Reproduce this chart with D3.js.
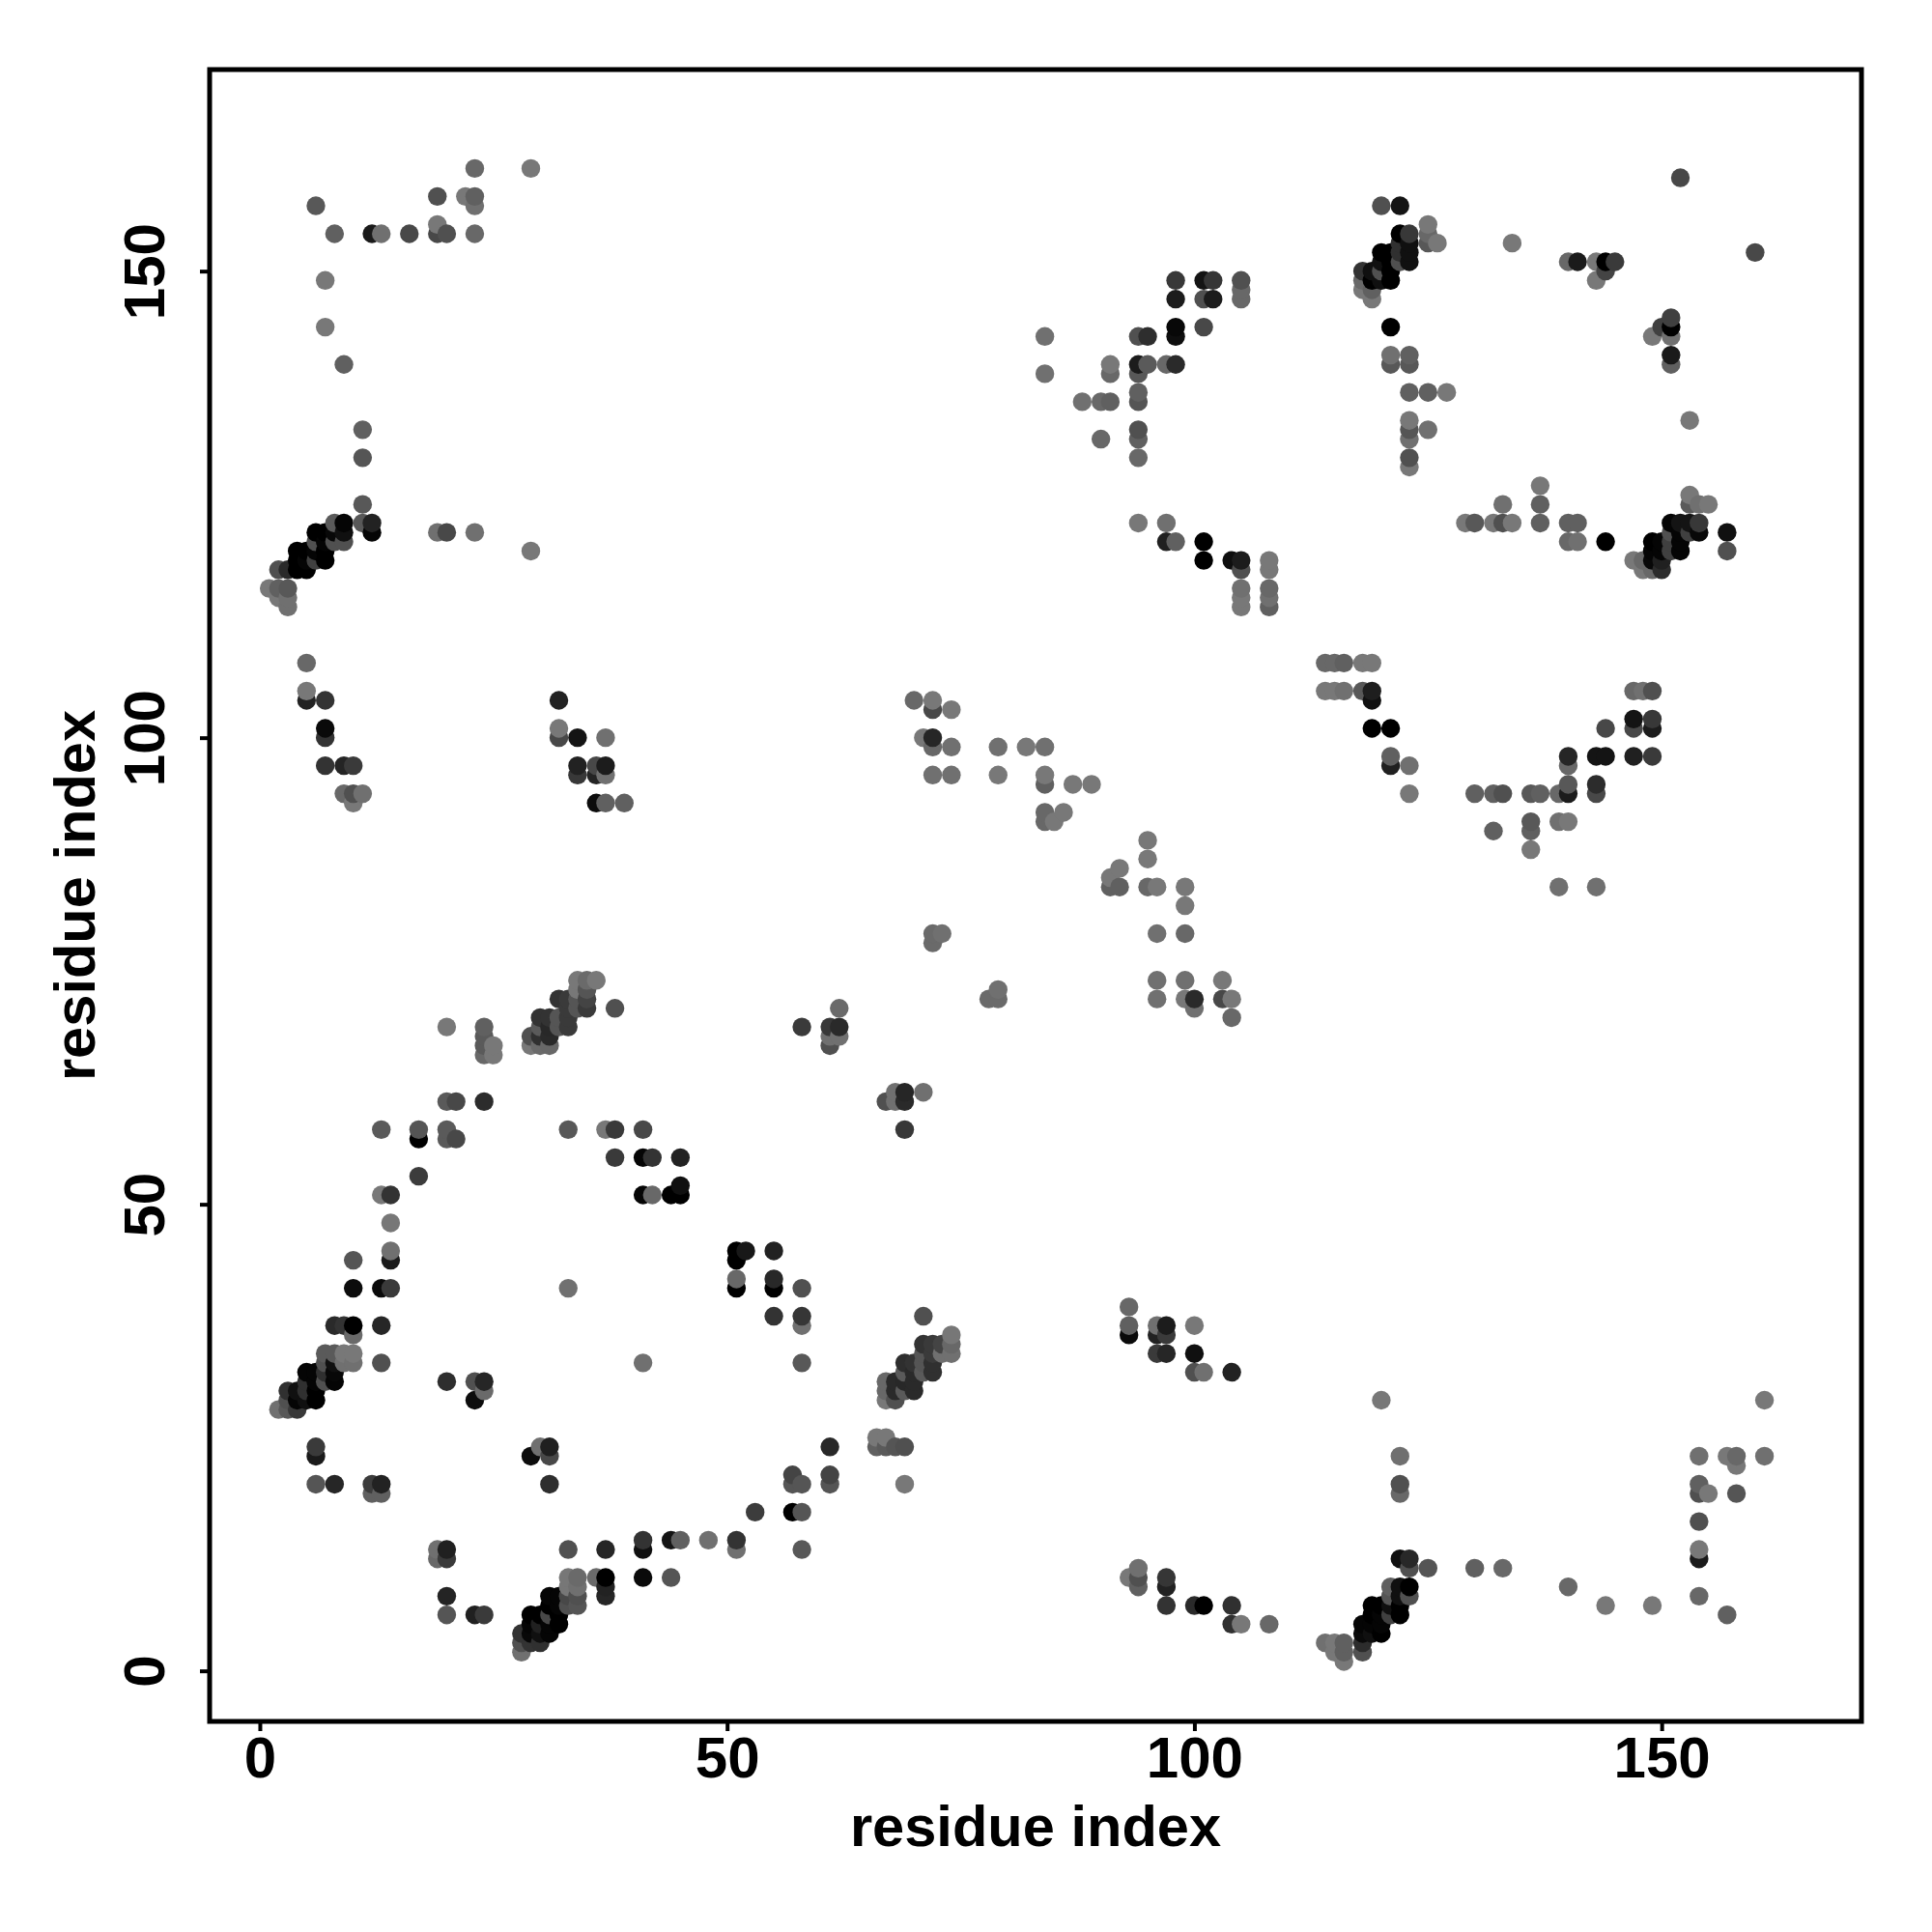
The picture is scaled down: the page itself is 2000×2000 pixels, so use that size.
<!DOCTYPE html>
<html><head><meta charset="utf-8"><style>html,body{margin:0;background:#fff}svg{display:block}</style>
<script src="https://cdn.jsdelivr.net/npm/d3@7"></script></head><body><svg id="c" width="2000" height="2000"></svg>
<script>
// each contact: [residue x, residue y, grey level]
const clusterA=[[2,28,0x70],[3,28,0x58],[4,28,0x38],[3,29,0x50],[4,29,0x05],[5,29,0x10],[6,29,0x00],[3,30,0x30],[4,30,0x10],[5,30,0x30],[6,30,0x00],[5,31,0x30],[6,31,0x05],[7,31,0x50],[8,31,0x05],[5,32,0x05],[6,32,0x05],[7,32,0x30],[8,32,0x08],[7,33,0x50],[8,33,0x10],[9,33,0x70],[10,33,0x70],[7,34,0x5a],[8,34,0x5a],[9,34,0x78],[10,34,0x78]];
const lowerLeft=[[14,48,0x77],[14,45,0x70],[14,44,0x1a],[10,44,0x55],[10,41,0x0c],[13,41,0x0a],[14,41,0x3a],[33,41,0x70],[8,37,0x2a],[9,37,0x33],[10,37,0x00],[13,37,0x26],[10,36,0x6a],[13,33,0x50],[41,33,0x70],[20,31,0x2e],[23,31,0x50],[24,31,0x26],[24,30,0x6a],[23,29,0x0c],[6,24,0x3a],[6,23,0x1a],[6,20,0x55],[8,20,0x26],[12,20,0x3c],[13,20,0x22],[12,19,0x60],[13,19,0x60],[29,23,0x0c],[30,24,0x70],[31,24,0x20],[31,23,0x48],[31,20,0x2e],[41,14,0x33],[41,13,0x10],[44,14,0x14],[45,14,0x60],[48,14,0x70],[19,13,0x70],[20,13,0x20],[33,13,0x50],[37,13,0x26],[19,12,0x68],[20,12,0x3a],[33,10,0x77],[34,10,0x6a],[36,10,0x6a],[37,10,0x00],[41,10,0x0a],[44,10,0x55],[33,9,0x77],[34,9,0x70],[37,9,0x22],[20,8,0x24],[37,8,0x26],[20,6,0x55],[23,6,0x20],[24,6,0x3a]];
const clusterB=[[28,2,0x70],[28,3,0x50],[29,3,0x33],[30,3,0x30],[28,4,0x33],[29,4,0x08],[30,4,0x10],[31,4,0x05],[29,5,0x05],[30,5,0x20],[31,5,0x05],[32,5,0x00],[29,6,0x00],[30,6,0x00],[31,6,0x48],[32,6,0x00],[31,7,0x00],[32,7,0x05],[33,7,0x50],[34,7,0x55],[31,8,0x05],[32,8,0x05],[33,8,0x48],[34,8,0x50]];
const lowerMiddle=[[51,45,0x00],[52,45,0x18],[55,45,0x22],[51,44,0x00],[51,42,0x68],[55,42,0x28],[51,41,0x00],[55,41,0x00],[58,41,0x50],[55,38,0x33],[58,38,0x36],[71,38,0x50],[58,37,0x70],[58,33,0x58],[66,25,0x78],[67,25,0x78],[66,24,0x60],[67,24,0x5a],[68,24,0x55],[69,24,0x50],[61,24,0x28],[57,21,0x44],[61,21,0x44],[57,20,0x55],[58,20,0x55],[61,20,0x55],[69,20,0x78],[53,17,0x3c],[57,17,0x00],[58,17,0x55],[51,14,0x33],[51,13,0x70],[58,13,0x58]];
const clusterC=[[74,36,0x77],[71,35,0x33],[72,35,0x3a],[73,35,0x44],[74,35,0x68],[71,34,0x55],[72,34,0x3a],[73,34,0x70],[74,34,0x70],[69,33,0x2e],[70,33,0x33],[71,33,0x55],[72,33,0x30],[69,32,0x5a],[70,32,0x2a],[71,32,0x5a],[72,32,0x30],[67,31,0x68],[68,31,0x2a],[69,31,0x28],[70,31,0x2a],[67,30,0x68],[68,30,0x2a],[69,30,0x5a],[70,30,0x2a],[67,29,0x78],[68,29,0x50]];
const lowerRight=[[93,39,0x68],[93,37,0x60],[93,36,0x0a],[96,37,0x70],[97,37,0x1c],[96,36,0x22],[97,36,0x3a],[96,34,0x3a],[97,34,0x26],[100,37,0x78],[100,34,0x10],[100,32,0x50],[101,32,0x70],[104,32,0x22],[93,10,0x78],[94,11,0x70],[94,10,0x50],[94,9,0x60],[97,10,0x36],[97,9,0x22],[97,7,0x33],[100,7,0x2a],[101,7,0x00],[120,29,0x78],[161,29,0x78],[122,23,0x70],[154,23,0x70],[157,23,0x78],[158,23,0x68],[161,23,0x70],[158,22,0x78],[122,20,0x50],[154,20,0x60],[122,19,0x68],[154,19,0x50],[155,19,0x78],[158,19,0x55],[154,16,0x50],[154,13,0x78],[154,12,0x1a],[122,12,0x10],[123,12,0x28],[123,11,0x50],[125,11,0x55],[130,11,0x60],[133,11,0x68],[140,9,0x68],[144,7,0x78],[149,7,0x78],[154,8,0x68],[157,6,0x60],[104,7,0x30],[104,5,0x30],[105,5,0x78],[108,5,0x68]];
const clusterD=[[114,3,0x70],[115,3,0x78],[116,3,0x60],[115,2,0x78],[116,2,0x60],[116,1,0x78],[118,2,0x50],[118,3,0x2c],[118,4,0x0a],[119,4,0x10],[120,4,0x00],[118,5,0x05],[119,5,0x05],[120,5,0x05],[119,6,0x00],[120,6,0x05],[121,6,0x40],[122,6,0x00],[119,7,0x00],[120,7,0x00],[121,7,0x10],[122,7,0x00],[121,8,0x55],[122,8,0x10],[123,8,0x50],[121,9,0x60],[122,9,0x10],[123,9,0x00]];
const midLeft=[[34,74,0x78],[35,74,0x6a],[36,74,0x78],[34,73,0x78],[35,73,0x55],[32,72,0x33],[33,72,0x3a],[34,72,0x55],[35,72,0x44],[38,71,0x50],[33,71,0x3a],[34,71,0x55],[35,71,0x3a],[30,70,0x33],[31,70,0x33],[32,70,0x55],[33,70,0x3a],[20,69,0x78],[24,69,0x60],[30,69,0x5a],[31,69,0x28],[32,69,0x55],[33,69,0x3a],[24,68,0x5a],[29,68,0x50],[30,68,0x30],[31,68,0x2a],[24,67,0x5a],[25,67,0x78],[29,67,0x78],[30,67,0x6a],[31,67,0x68],[24,66,0x68],[25,66,0x78],[20,61,0x5a],[21,61,0x48],[24,61,0x2c],[13,58,0x5a],[17,58,0x55],[20,58,0x5a],[33,58,0x58],[37,58,0x78],[38,58,0x3a],[41,58,0x48],[17,57,0x00],[20,57,0x5a],[21,57,0x48],[38,55,0x3a],[41,55,0x05],[42,55,0x33],[45,55,0x22],[17,53,0x3c],[45,52,0x10],[13,51,0x78],[14,51,0x33],[41,51,0x05],[42,51,0x68],[44,51,0x00],[45,51,0x00]];
const midCentre=[[62,71,0x6a],[58,69,0x3a],[61,69,0x38],[62,69,0x2a],[61,68,0x70],[62,68,0x70],[61,67,0x50],[68,62,0x70],[69,62,0x26],[71,62,0x70],[67,61,0x50],[68,61,0x70],[69,61,0x2a],[69,58,0x38],[72,96,0x70],[74,96,0x70],[79,96,0x78],[84,96,0x78],[84,95,0x60],[87,95,0x78],[89,95,0x78],[84,92,0x68],[86,92,0x78],[84,91,0x68],[85,91,0x78],[95,89,0x78],[95,87,0x78],[92,86,0x78],[91,85,0x78],[91,84,0x60],[92,84,0x60],[95,84,0x68],[96,84,0x78],[99,84,0x78],[99,82,0x78],[96,79,0x70],[99,79,0x68],[72,79,0x6a],[73,79,0x70],[72,78,0x6a],[96,74,0x70],[99,74,0x70],[103,74,0x78],[96,72,0x70],[99,72,0x78],[100,72,0x2a],[103,72,0x48],[104,72,0x78],[100,71,0x70],[104,70,0x68],[79,73,0x70],[79,72,0x6a],[78,72,0x6a],[70,104,0x68],[72,104,0x78],[72,103,0x48],[74,103,0x78],[71,100,0x78],[72,100,0x26],[72,99,0x68],[74,99,0x70],[79,99,0x70],[82,99,0x78],[84,99,0x70]];
const midUpperLeft=[[5,108,0x68],[5,105,0x78],[5,104,0x22],[7,104,0x33],[7,101,0x0a],[7,100,0x33],[7,97,0x33],[9,97,0x24],[10,97,0x3a],[9,94,0x68],[10,94,0x50],[11,94,0x70],[10,93,0x78],[32,104,0x22],[32,101,0x78],[32,100,0x48],[34,100,0x14],[37,100,0x70],[34,97,0x22],[36,97,0x48],[37,97,0x1c],[34,96,0x38],[36,96,0x24],[37,96,0x70],[36,93,0x0c],[37,93,0x60],[39,93,0x60]];
const midRight=[[114,108,0x68],[115,108,0x68],[116,108,0x60],[118,108,0x78],[119,108,0x78],[114,105,0x78],[115,105,0x78],[116,105,0x70],[118,105,0x58],[119,105,0x1e],[119,104,0x10],[119,101,0x00],[121,101,0x00],[121,98,0x60],[121,97,0x20],[123,97,0x70],[123,94,0x78],[130,94,0x60],[132,94,0x60],[133,94,0x50],[136,94,0x58],[137,94,0x60],[139,94,0x68],[140,94,0x1c],[143,94,0x48],[140,95,0x58],[143,95,0x2c],[140,97,0x68],[140,98,0x26],[143,98,0x14],[144,98,0x14],[147,98,0x20],[149,98,0x3a],[144,101,0x48],[147,101,0x48],[149,101,0x1c],[147,102,0x14],[149,102,0x38],[147,105,0x68],[148,105,0x70],[149,105,0x50],[136,91,0x58],[139,91,0x70],[140,91,0x78],[132,90,0x60],[136,90,0x60],[136,88,0x78],[139,84,0x70],[143,84,0x70]];
const clusterE=[[1,116,0x78],[2,116,0x60],[3,116,0x58],[2,115,0x78],[3,115,0x70],[3,114,0x70],[2,118,0x50],[3,118,0x2a],[4,118,0x00],[5,118,0x00],[4,119,0x00],[5,119,0x05],[6,119,0x40],[7,119,0x00],[4,120,0x00],[5,120,0x00],[6,120,0x05],[7,120,0x00],[6,121,0x50],[7,121,0x05],[8,121,0x50],[9,121,0x50],[6,122,0x00],[7,122,0x00],[8,122,0x08],[9,122,0x10],[8,123,0x5a],[9,123,0x05]];
const upperLeft=[[11,125,0x58],[11,123,0x58],[12,123,0x22],[12,122,0x05],[19,122,0x70],[20,122,0x48],[23,122,0x70],[29,120,0x78],[23,161,0x68],[29,161,0x78],[19,158,0x50],[22,158,0x78],[23,158,0x60],[6,157,0x58],[23,157,0x70],[19,155,0x78],[8,154,0x60],[12,154,0x1a],[13,154,0x70],[16,154,0x48],[19,154,0x48],[20,154,0x50],[23,154,0x68],[7,149,0x78],[7,144,0x78],[9,140,0x60],[11,133,0x60],[11,130,0x55]];
const upperMiddle=[[98,149,0x38],[101,149,0x14],[102,149,0x36],[105,149,0x50],[105,148,0x68],[98,147,0x1c],[101,147,0x50],[102,147,0x1c],[105,147,0x68],[98,144,0x08],[101,144,0x48],[84,143,0x70],[94,143,0x50],[95,143,0x2e],[98,143,0x0e],[91,140,0x78],[94,140,0x1c],[95,140,0x5a],[97,140,0x68],[98,140,0x2a],[84,139,0x70],[91,139,0x68],[94,139,0x58],[94,137,0x60],[88,136,0x70],[90,136,0x68],[91,136,0x60],[94,136,0x55],[94,133,0x50],[90,132,0x68],[94,132,0x60],[94,130,0x68],[94,123,0x78],[97,123,0x70],[97,121,0x20],[98,121,0x60],[101,121,0x00],[101,119,0x00],[104,119,0x0e],[105,119,0x1c],[108,119,0x78],[105,118,0x50],[108,118,0x78],[105,116,0x70],[108,116,0x68],[105,115,0x78],[108,115,0x70],[105,114,0x78],[108,114,0x60]];
const clusterF=[[122,154,0x00],[123,154,0x38],[122,153,0x30],[123,153,0x10],[120,152,0x00],[121,152,0x00],[122,152,0x30],[123,152,0x10],[120,151,0x10],[121,151,0x00],[122,151,0x50],[123,151,0x10],[118,150,0x33],[119,150,0x10],[120,150,0x50],[121,150,0x00],[118,149,0x68],[119,149,0x00],[120,149,0x10],[121,149,0x00],[118,148,0x78],[119,148,0x60],[119,147,0x78]];
const upperRight=[[152,160,0x48],[120,157,0x50],[122,157,0x14],[125,155,0x78],[125,154,0x68],[125,153,0x58],[126,153,0x78],[134,153,0x78],[160,152,0x48],[140,151,0x68],[141,151,0x1a],[143,151,0x78],[144,151,0x00],[145,151,0x3a],[144,150,0x44],[143,149,0x78],[121,144,0x00],[151,145,0x40],[151,144,0x00],[150,144,0x40],[149,143,0x78],[151,143,0x70],[151,141,0x1a],[121,141,0x70],[123,141,0x60],[121,140,0x58],[123,140,0x58],[151,140,0x60],[123,137,0x60],[125,137,0x60],[127,137,0x78],[123,134,0x78],[153,134,0x78],[123,133,0x55],[125,133,0x70],[123,132,0x70],[123,130,0x50],[123,129,0x78],[137,127,0x78],[133,125,0x70],[137,125,0x60],[129,123,0x78],[130,123,0x58],[132,123,0x78],[133,123,0x50],[134,123,0x78],[137,123,0x60],[140,123,0x60],[141,123,0x60],[140,121,0x68],[141,121,0x70],[144,121,0x00],[157,122,0x10],[157,120,0x50]];
const clusterG=[[153,126,0x78],[153,125,0x5a],[154,125,0x70],[155,125,0x78],[151,123,0x05],[152,123,0x14],[153,123,0x14],[154,123,0x38],[151,122,0x50],[152,122,0x05],[153,122,0x40],[154,122,0x08],[149,121,0x00],[150,121,0x05],[151,121,0x40],[152,121,0x05],[149,120,0x05],[150,120,0x05],[151,120,0x40],[152,120,0x05],[147,119,0x78],[148,119,0x68],[149,119,0x08],[150,119,0x20],[148,118,0x78],[149,118,0x68],[150,118,0x2c]];
const contacts=d3.sort([clusterA,lowerLeft,clusterB,lowerMiddle,clusterC,lowerRight,clusterD,midLeft,midCentre,midUpperLeft,midRight,clusterE,upperLeft,upperMiddle,clusterF,upperRight,clusterG].flat(),(a,b)=>a[0]-b[0]||a[1]-b[1]);
const tickValues=[0,50,100,150];
const xTitle="residue index",yTitle="residue index";

const svg=d3.select("#c");
const L=217,R=1927,T=72,B=1782;
const x=d3.scaleLinear().domain([-5.37,171.38]).range([L,R]);
const y=d3.scaleLinear().domain([-5.42,171.6]).range([B,T]);
const grey=d3.scaleLinear().domain([0,255]).range(["#000","#fff"]);
const font="'Liberation Sans',Arial,sans-serif";

svg.append("g").selectAll("circle").data(contacts).join("circle")
  .attr("cx",d=>x(d[0])).attr("cy",d=>y(d[1])).attr("r",9.7).attr("fill",d=>grey(d[2]));
svg.append("rect").attr("x",L).attr("y",T).attr("width",R-L).attr("height",B-T)
  .attr("fill","none").attr("stroke","#000").attr("stroke-width",5);

const gx=svg.append("g").attr("transform",`translate(0,${B})`)
  .call(d3.axisBottom(x).tickValues(tickValues).tickSize(10).tickPadding(16));
const gy=svg.append("g").attr("transform",`translate(${L},0)`)
  .call(d3.axisLeft(y).tickValues(tickValues).tickSize(10).tickPadding(16));
gx.select(".domain").remove();gy.select(".domain").remove();
svg.selectAll(".tick line").attr("stroke","#000").attr("stroke-width",4);
svg.selectAll(".tick text").attr("font-family",font).attr("font-weight","bold").attr("font-size",60).attr("fill","#000");
gx.selectAll(".tick text").attr("dy",null).attr("y",null).attr("transform",null)
  .attr("text-anchor","middle").attr("y",58);
gy.selectAll(".tick text").attr("dy",null).attr("x",null)
  .attr("text-anchor","middle").attr("transform","translate(-47,0) rotate(-90)");

svg.append("text").text(xTitle).attr("x",1072).attr("y",1911).attr("text-anchor","middle")
  .attr("font-family",font).attr("font-weight","bold").attr("font-size",59.6);
svg.append("text").text(yTitle).attr("transform","translate(98,927) rotate(-90)").attr("text-anchor","middle")
  .attr("font-family",font).attr("font-weight","bold").attr("font-size",59.6);
</script></body></html>
